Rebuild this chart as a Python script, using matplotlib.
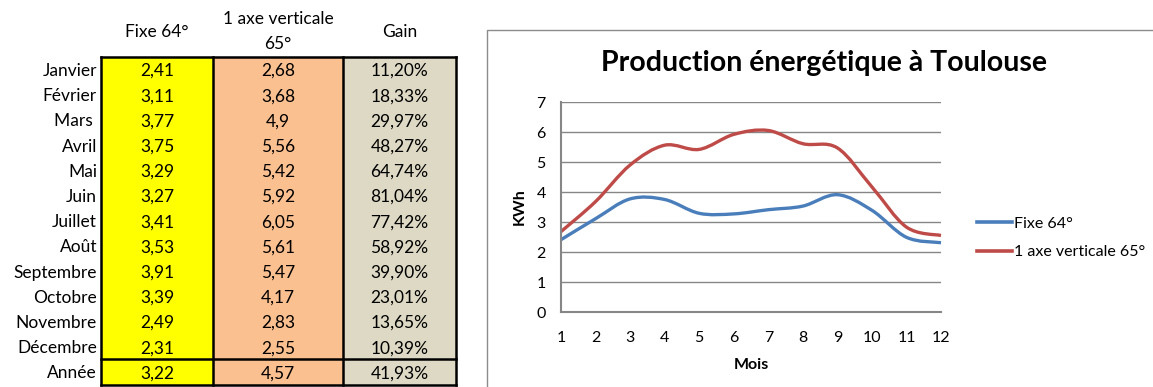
import numpy as np
import matplotlib
matplotlib.use("Agg")
import matplotlib.pyplot as plt
from matplotlib.path import Path
from matplotlib.patches import PathPatch, Rectangle
from matplotlib.lines import Line2D

plt.rcParams['font.family'] = ['Lato', 'DejaVu Sans']

# --- data ---
months = ["Janvier", "Février", "Mars ", "Avril", "Mai", "Juin", "Juillet",
          "Août", "Septembre", "Octobre", "Novembre", "Décembre"]
month_num = list(range(1, 13))
fixe = [2.41, 3.11, 3.77, 3.75, 3.29, 3.27, 3.41, 3.53, 3.91, 3.39, 2.49, 2.31]
axe = [2.68, 3.68, 4.9, 5.56, 5.42, 5.92, 6.05, 5.61, 5.47, 4.17, 2.83, 2.55]
gain = [11.20, 18.33, 29.97, 48.27, 64.74, 81.04, 77.42, 58.92, 39.90, 23.01, 13.65, 10.39]
year_label = "Année"
year_fixe, year_axe, year_gain = 3.22, 4.57, 41.93
headers = ["Fixe 64°", "1 axe verticale\n65°", "Gain"]
series_names = ["Fixe 64°", "1 axe verticale 65°"]

BLUE = "#4A7EBB"
RED = "#BE4B48"
COL_FILL = ["#FFFF00", "#FAC090", "#DDD9C4"]
GRID = "#868686"

W, H = 1153, 387


def fr(v):
    return ("%g" % v).replace(".", ",")


def pct(v):
    return ("%.2f%%" % v).replace(".", ",")


def smooth_path(x, y, t=1.0 / 6):
    """Cubic bezier through the points (like excel's smoothed lines)."""
    pts = np.column_stack([x, y]).astype(float)
    n = len(pts)
    verts = [pts[0]]
    codes = [Path.MOVETO]
    for i in range(n - 1):
        p0 = pts[max(i - 1, 0)]
        p1 = pts[i]
        p2 = pts[i + 1]
        p3 = pts[min(i + 2, n - 1)]
        verts += [p1 + (p2 - p0) * t, p2 - (p3 - p1) * t, p2]
        codes += [Path.CURVE4] * 3
    return Path(verts, codes)


fig = plt.figure(figsize=(W / 100, H / 100), dpi=100)

# overlay in pixel coordinates for the table + chart frame
bg = fig.add_axes([0, 0, 1, 1])
bg.set_xlim(0, W)
bg.set_ylim(H, 0)
bg.axis("off")

# table geometry (pixels)
col_edges = [101, 213, 343, 456]
top, row_h = 57, 25.2
nrows = len(months) + 1
bottom = top + row_h * nrows
fs = 12.5

for j, hdr in enumerate(headers):
    cx = (col_edges[j] + col_edges[j + 1]) / 2
    parts = hdr.split("\n")
    if len(parts) == 1:
        bg.text(cx, 32, hdr, ha="center", va="center", fontsize=fs)
    else:
        # wrapped header: excel puts the lines a full row apart
        for k, part in enumerate(parts):
            bg.text(cx, 19 + 25 * k, part, ha="center", va="center", fontsize=fs)

for j in range(3):
    bg.add_patch(Rectangle((col_edges[j], top), col_edges[j + 1] - col_edges[j],
                           bottom - top, facecolor=COL_FILL[j], edgecolor="none"))

rows = [(m, fr(a), fr(b), pct(g)) for m, a, b, g in zip(months, fixe, axe, gain)]
rows.append((year_label, fr(year_fixe), fr(year_axe), pct(year_gain)))
for i, row in enumerate(rows):
    cy = top + row_h * (i + 0.5) + 1.5
    bg.text(97, cy, row[0], ha="right", va="center", fontsize=fs)
    for j in range(3):
        cx = (col_edges[j] + col_edges[j + 1]) / 2
        bg.text(cx, cy, row[j + 1], ha="center", va="center", fontsize=fs)

lw = 1.8
for xe in col_edges:
    bg.plot([xe, xe], [top, bottom], color="black", lw=lw, solid_capstyle="projecting")
year_top = top + row_h * len(months)
for ye in (top, year_top, bottom):
    bg.plot([col_edges[0], col_edges[-1]], [ye, ye], color="black", lw=lw,
            solid_capstyle="projecting")

# chart frame (runs off the right / bottom of the picture)
bg.plot([487, 487, W + 5], [H + 5, 29.5, 29.5], color="#8C8C8C", lw=1.0)

# --- line chart ---
x0, x1, y0, y1 = 561, 941, 312, 102
ax = fig.add_axes([x0 / W, 1 - y0 / H, (x1 - x0) / W, (y0 - y1) / H])
ax.set_xlim(1, 12)
ax.set_ylim(0, 7)
ax.patch.set_alpha(0)
for s in ("top", "right"):
    ax.spines[s].set_visible(False)
for s in ("left", "bottom"):
    ax.spines[s].set_color(GRID)
    ax.spines[s].set_linewidth(1.5)
ax.set_yticks(range(0, 8))
ax.set_xticks(month_num)
ax.yaxis.grid(True, color=GRID, lw=1.0)
ax.set_axisbelow(True)
ax.tick_params(length=0, labelsize=11.5)
ax.tick_params(axis="y", pad=11)
ax.tick_params(axis="x", pad=14)

for vals, col in ((fixe, BLUE), (axe, RED)):
    ax.add_patch(PathPatch(smooth_path(month_num, vals), fill=False,
                           edgecolor=col, lw=2.4, capstyle="butt", clip_on=False))

ax.set_xlabel("Mois", fontsize=11.5, fontweight="bold", labelpad=9)
ax.set_ylabel("KWh", fontsize=11.5, fontweight="bold", labelpad=7)

fig.text(824 / W, 1 - 63 / H, "Production énergétique à Toulouse",
         ha="center", va="center", fontsize=20.5, fontweight="bold")

handles = [Line2D([], [], color=BLUE, lw=2.6), Line2D([], [], color=RED, lw=2.6)]
ax.legend(handles, series_names, loc="center left",
          bbox_to_anchor=(977 / W, 1 - 238 / H), bbox_transform=fig.transFigure,
          frameon=False, fontsize=11.5, handlelength=2.2, handletextpad=0.1,
          labelspacing=0.9, borderaxespad=0, borderpad=0)

fig.savefig("out.png", dpi=100)
